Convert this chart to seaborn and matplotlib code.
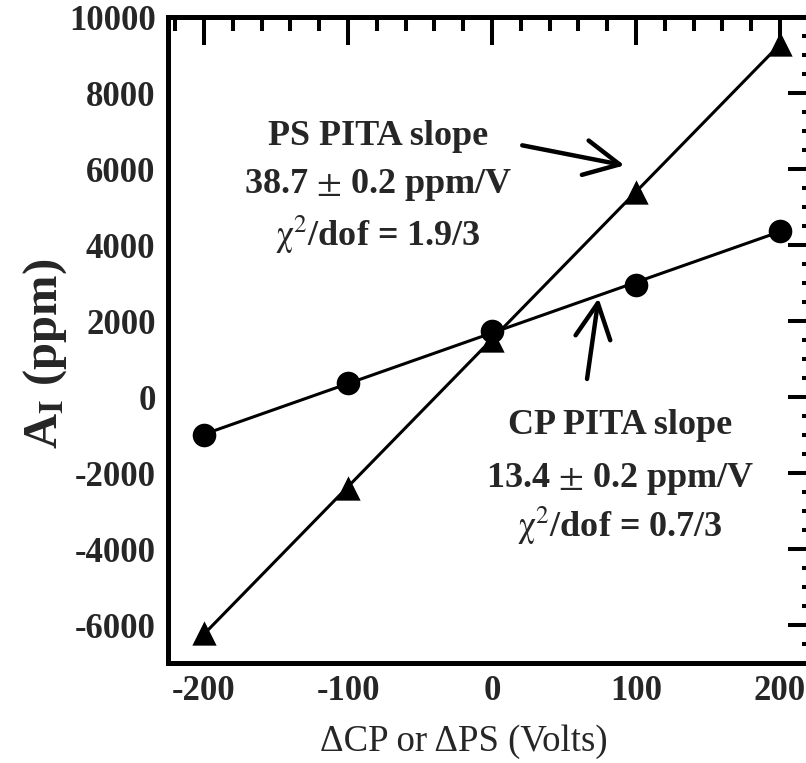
import matplotlib
matplotlib.use("Agg")
import matplotlib.pyplot as plt
import seaborn as sns
import numpy as np

# ---- data ----
voltage = [-200, -100, 0, 100, 200]
ps_asym = [-6200, -2400, 1500, 5400, 9300]
cp_asym = [-1000, 370, 1730, 2960, 4370]

xticks = [-200, -100, 0, 100, 200]
yticks = [-6000, -4000, -2000, 0, 2000, 4000, 6000, 8000, 10000]

ps_lines = ["PS PITA slope", "38.7 $\\pm$ 0.2 ppm/V", "$\\mathrm{\\chi}^{2}$/dof = 1.9/3"]
cp_lines = ["CP PITA slope", "13.4 $\\pm$ 0.2 ppm/V", "$\\mathrm{\\chi}^{2}$/dof = 0.7/3"]

sns.set_style("white")
plt.rcParams["font.family"] = ["Liberation Serif", "DejaVu Serif"]
plt.rcParams["mathtext.fontset"] = "stix"

fig = plt.figure(figsize=(8.06, 7.63), dpi=100)
ax = fig.add_axes([168 / 806, 100 / 763, 648 / 806, 646 / 763])

sns.regplot(x=voltage, y=ps_asym, ax=ax, ci=None, color="black", marker="^",
            scatter_kws={"s": 17.5 ** 2, "linewidths": 0, "alpha": 1},
            line_kws={"lw": 2.2})
sns.regplot(x=voltage, y=cp_asym, ax=ax, ci=None, color="black", marker="o",
            scatter_kws={"s": 17 ** 2, "linewidths": 0, "alpha": 1},
            line_kws={"lw": 2.2})

ax.set_xlim(-225, 225)
ax.set_ylim(-7000, 10000)
ax.set_xticks(xticks)
ax.set_yticks(yticks)
ax.set_xticks(np.arange(-220, 221, 20), minor=True)
ax.set_yticks(np.arange(-7000, 10001, 500), minor=True)
ax.set_xticklabels([str(v) for v in xticks])
ax.set_yticklabels([str(v) for v in yticks])

for s in ax.spines.values():
    s.set_linewidth(3.6)
    s.set_color("black")
ax.tick_params(which="both", direction="in", top=True, right=True, color="black")
ax.tick_params(which="major", length=20, width=2.9, pad=9)
ax.tick_params(which="minor", length=10, width=2.9)
for lab in ax.get_xticklabels() + ax.get_yticklabels():
    lab.set_fontsize(25)
    lab.set_fontweight("bold")

ax.set_xlabel("")
ax.set_ylabel("")
fig.text(464 / 806, 12 / 763, "ΔCP or ΔPS (Volts)", ha="center", va="baseline",
         fontsize=26.5)
fig.text(45 / 806, (763 - 354) / 763, "A$_{\\mathbf{I}}$ (ppm)", rotation=90,
         ha="center", va="center", fontsize=35, fontweight="bold")

# annotations
for txt, yb in zip(ps_lines, [6623, 5356, 3984]):
    ax.text(-79, yb, txt, ha="center", va="baseline", fontsize=26, fontweight="bold")
for txt, yb in zip(cp_lines, [-976, -2375, -3694]):
    ax.text(89, yb, txt, ha="center", va="baseline", fontsize=26, fontweight="bold")

arrow_style = "->,head_length=0.6,head_width=0.3"
ax.annotate("", xy=(92, 6095), xytext=(21, 6623),
            arrowprops=dict(arrowstyle=arrow_style, lw=3.2, color="black",
                            mutation_scale=42, shrinkA=0, shrinkB=0))
ax.annotate("", xy=(74, 2600), xytext=(66, 475),
            arrowprops=dict(arrowstyle=arrow_style, lw=3.2, color="black",
                            mutation_scale=42, shrinkA=0, shrinkB=0))

fig.savefig("out.png", dpi=100)
